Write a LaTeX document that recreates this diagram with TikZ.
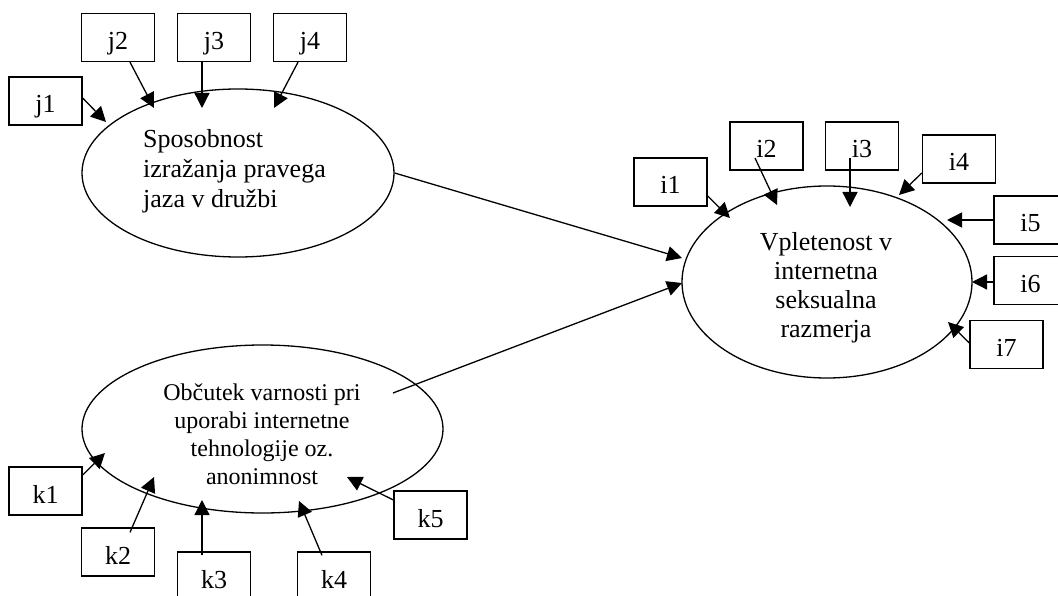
\documentclass[tikz,border=0pt]{standalone}
\usepackage{fontspec}
\setmainfont{Liberation Serif}
\usetikzlibrary{arrows.meta,shapes.geometric,calc}
\tikzset{
  obs/.style={draw, line width=1.3pt, minimum width=73pt, minimum height=48pt, inner sep=0pt,
    font=\fontsize{26}{30}\selectfont, text height=24pt, text depth=0pt},
  lat/.style={draw, ellipse, line width=1.3pt, inner sep=0pt},
  lattext/.style={inner sep=0pt, font=\fontsize{26}{30}\selectfont},
  arr/.style={line width=1.3pt, -{Triangle[length=15pt,width=15pt]}}
}
\begin{document}
\begin{tikzpicture}[x=1pt,y=-1pt]
\useasboundingbox (0,0) rectangle (1058,596);
% latent ellipses
\node[lat, minimum width=312pt, minimum height=168pt] (E1) at (238,173) {};
\node[lat, minimum width=290pt, minimum height=192pt] (E2) at (827,282) {};
\node[lat, minimum width=361pt, minimum height=168pt] (E3) at (262.5,429) {};
\node[lattext, align=left, anchor=west] (T1) at (143,171) {Sposobnost\\izražanja pravega\\jaza v družbi};
\node[lattext, align=center, font=\fontsize{26}{29}\selectfont] (T2) at (826,288) {Vpletenost v\\internetna\\seksualna\\razmerja};
\node[lattext, align=center, font=\fontsize{24}{28}\selectfont] (T3) at (262,434.5) {Občutek varnosti pri\\uporabi internetne\\tehnologije oz.\\anonimnost};
% indicator boxes
\node[obs] (j1) at (45.5,101) {j1};
\node[obs] (j2) at (118,37.5) {j2};
\node[obs] (j3) at (214,37.5) {j3};
\node[obs] (j4) at (310,37.5) {j4};
\node[obs] (i1) at (670.5,182) {i1};
\node[obs] (i2) at (766.5,146) {i2};
\node[obs] (i3) at (862,146) {i3};
\node[obs] (i4) at (959,159) {i4};
\node[obs] (i5) at (1030.5,220) {i5};
\node[obs] (i6) at (1030.5,280.5) {i6};
\node[obs] (i7) at (1006.5,344.5) {i7};
\node[obs] (k1) at (45.5,491) {k1};
\node[obs] (k2) at (118,552) {k2};
\node[obs] (k3) at (214,576) {k3};
\node[obs] (k4) at (334,576) {k4};
\node[obs] (k5) at (430.5,515) {k5};
% arrow tips (where the heads reach)
\coordinate (tj1) at ($(E1.center)+(-132,-51)$);
\coordinate (tj2) at ($(E1.center)+(-84,-65)$);
\coordinate (tj3) at ($(E1.center)+(-36,-65)$);
\coordinate (tj4) at ($(E1.center)+(36,-65)$);
\coordinate (tE1) at ($(E2.center)+(-145,-24)$);
\coordinate (tE3) at ($(E2.center)+(-145,1)$);
\coordinate (ti1) at ($(E2.center)+(-97,-64)$);
\coordinate (ti2) at ($(E2.center)+(-50,-77)$);
\coordinate (ti3) at ($(E2.center)+(23,-75)$);
\coordinate (ti4) at ($(E2.center)+(72,-87)$);
\coordinate (ti5) at ($(E2.center)+(120,-62)$);
\coordinate (ti6) at ($(E2.center)+(145,0)$);
\coordinate (ti7) at ($(E2.center)+(121,40)$);
\coordinate (tk1) at ($(E3.center)+(-157.5,24)$);
\coordinate (tk2) at ($(E3.center)+(-108.5,48)$);
\coordinate (tk3) at ($(E3.center)+(-60.5,71)$);
\coordinate (tk4) at ($(E3.center)+(36.5,72)$);
\coordinate (tk5) at ($(E3.center)+(84.5,48)$);
\coordinate (e3out) at ($(E3.center)+(130.5,-36)$);
% connectors
\draw[arr] ($(j1.east)+(0,-3)$) -- (tj1);
\draw[arr] ($(j2.south)+(12,0)$) -- (tj2);
\draw[arr] ($(j3.south)+(-12,0)$) -- (tj3);
\draw[arr] ($(j4.south)+(-12,0)$) -- (tj4);
\draw[arr] (E1.east) -- (tE1);
\draw[arr] (e3out) -- (tE3);
\draw[arr] ($(i1.east)+(0,14)$) -- (ti1);
\draw[arr] ($(i2.center)+(-11.5,12)$) -- (ti2);
\draw[arr] ($(i3.center)+(-12,12)$) -- (ti3);
\draw[arr] ($(i4.west)+(0,14)$) -- (ti4);
\draw[arr] (i5.west) -- (ti5);
\draw[arr] ($(i6.west)+(0,1.5)$) -- (ti6);
\draw[arr] ($(i7.west)+(0,-1.5)$) -- (ti7);
\draw[arr] ($(k1.east)+(0,-16)$) -- (tk1);
\draw[arr] ($(k2.north)+(12,5)$) -- (tk2);
\draw[arr] ($(k3.north)+(-12,4)$) -- (tk3);
\draw[arr] ($(k4.north)+(-12,4)$) -- (tk4);
\draw[arr] ($(k5.west)+(0,-15)$) -- (tk5);
\end{tikzpicture}
\end{document}
